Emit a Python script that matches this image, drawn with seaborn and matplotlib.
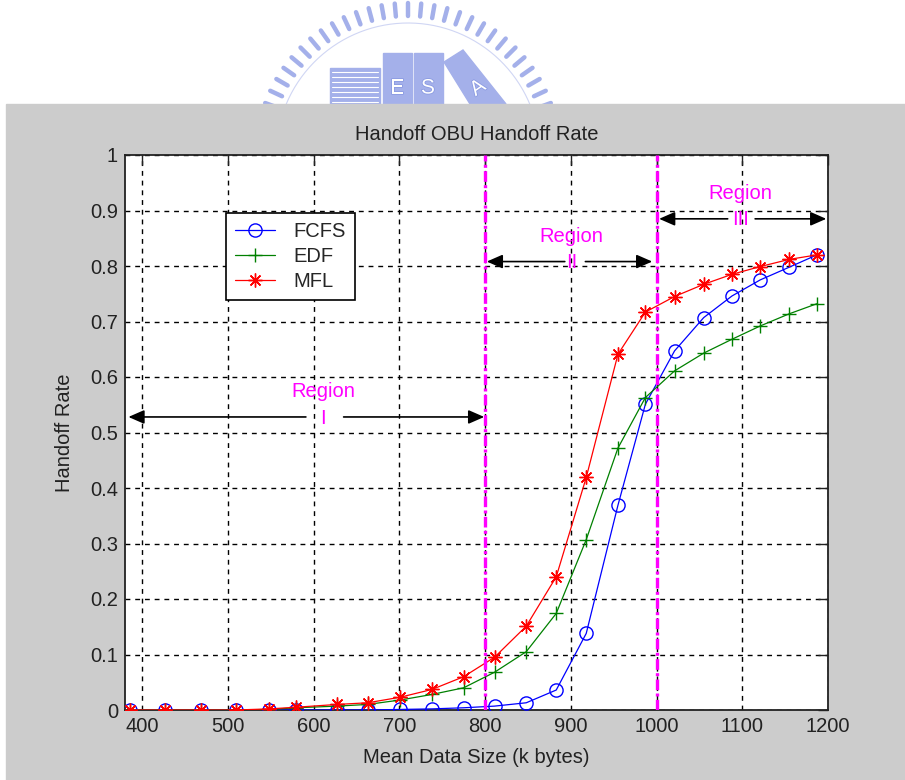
import numpy as np
import pandas as pd
import matplotlib
matplotlib.use("Agg")
import matplotlib.pyplot as plt
import seaborn as sns
from matplotlib.patches import Rectangle, Polygon
from matplotlib.lines import Line2D
import matplotlib.patheffects as pe

# ---------------- data ----------------
data_size = [386, 427, 469, 509, 548, 580, 627, 663, 701, 738, 775, 811,
             848, 883, 918, 955, 987, 1021, 1055, 1088, 1121, 1155, 1187]
fcfs = [0, 0, 0, 0, 0, 0, 0.0, 0.0, 0.001, 0.002, 0.004, 0.007,
        0.013, 0.036, 0.138, 0.369, 0.551, 0.647, 0.707, 0.746, 0.775, 0.798, 0.820]
edf = [0, 0, 0, 0, 0.001, 0.004, 0.007, 0.010, 0.018, 0.028, 0.040, 0.068,
       0.105, 0.174, 0.307, 0.472, 0.563, 0.611, 0.643, 0.668, 0.692, 0.714, 0.732]
mfl = [0, 0, 0, 0, 0.002, 0.005, 0.010, 0.013, 0.023, 0.037, 0.060, 0.095,
       0.151, 0.240, 0.419, 0.641, 0.717, 0.745, 0.767, 0.785, 0.799, 0.812, 0.820]
series_names = ["FCFS", "EDF", "MFL"]
series_values = [fcfs, edf, mfl]

x_ticks = [400, 500, 600, 700, 800, 900, 1000, 1100, 1200]
y_ticks = [0, 0.1, 0.2, 0.3, 0.4, 0.5, 0.6, 0.7, 0.8, 0.9, 1]
y_tick_labels = ["0", "0.1", "0.2", "0.3", "0.4", "0.5", "0.6", "0.7", "0.8", "0.9", "1"]
region_bounds = [800, 1000]
region_names = ["I", "II", "III"]
region_text_x = [611, 901, 1098]
region_arrow_y = [0.528, 0.808, 0.885]
region_left_end = [384, 802, 1003]
region_right_end = [799, 995, 1198]
region_gap = [(591, 635), (893, 917), (1083, 1115)]

title = "Handoff OBU Handoff Rate"
x_label = "Mean Data Size (k bytes)"
y_label = "Handoff Rate"

# ---------------- style ----------------
sns.set_theme(style="white")
plt.rcParams["font.family"] = ["Liberation Sans", "DejaVu Sans"]
FS = 14.5

W, H = 905, 780
fig = plt.figure(figsize=(W / 100, H / 100), dpi=100, facecolor="white")


def fx(px):
    return px / W


def fy(py):
    return 1 - py / H


# ---- faint watermark logo above the panel ----
logo_col = "#a4b0ea"
cx, cy = 408, 155
for ang in np.arange(0, 360, 5):
    t = np.deg2rad(ang)
    r0, r1 = 139, 152
    xs = [fx(cx + r0 * np.cos(t)), fx(cx + r1 * np.cos(t))]
    ys = [fy(cy - r0 * np.sin(t)), fy(cy - r1 * np.sin(t))]
    fig.add_artist(Line2D(xs, ys, transform=fig.transFigure, color=logo_col,
                          lw=3.2, solid_capstyle="round", zorder=-3))
tt = np.linspace(0, np.pi, 200)
fig.add_artist(Line2D(fx(cx + 132 * np.cos(tt)), fy(cy - 132 * np.sin(tt)),
                      transform=fig.transFigure, color="#d0d6f4", lw=0.8, zorder=-3))
fig.add_artist(Rectangle((fx(330), fy(104)), fx(380) - fx(330), fy(68) - fy(104),
                         transform=fig.transFigure, color=logo_col, zorder=-3))
for yy in range(72, 104, 5):
    fig.add_artist(Line2D([fx(332), fx(378)], [fy(yy), fy(yy)], transform=fig.transFigure,
                          color="white", lw=0.8, zorder=-2.9))
for (x0, x1) in [(383, 412), (414, 443)]:
    fig.add_artist(Rectangle((fx(x0), fy(104)), fx(x1) - fx(x0), fy(53) - fy(104),
                             transform=fig.transFigure, color=logo_col, zorder=-3))
fig.add_artist(Polygon([(fx(444), fy(62)), (fx(463), fy(50)), (fx(506), fy(104)), (fx(470), fy(104))],
                       closed=True, transform=fig.transFigure, color=logo_col, zorder=-3))
for ch, px_ in zip(["E", "S", "A"], [397, 428, 478]):
    fig.text(fx(px_), fy(88), ch, color="white", fontsize=15, ha="center", va="center",
             rotation=(35 if ch == "A" else 0), zorder=-2.8,
             path_effects=[pe.withStroke(linewidth=1.2, foreground="#8b9be2")])

# ---- grey MATLAB figure panel ----
fig.add_artist(Rectangle((fx(6), 0), 1 - fx(6), fy(104), transform=fig.transFigure,
                         color="#cccccc", zorder=-1))

# ---------------- axes ----------------
ax = fig.add_axes([fx(125), fy(710), (828 - 125) / W, (710 - 155) / H])
ax.set_facecolor("white")

colors = {"FCFS": "#0000ff", "EDF": "#008000", "MFL": "#ff0000"}
markers = {"FCFS": "o", "EDF": "+", "MFL": (8, 2, 0)}
msizes = {"FCFS": 9.5, "EDF": 10, "MFL": 10}
for name, vals in zip(series_names, series_values):
    c = colors[name]
    sns.lineplot(x=data_size, y=vals, ax=ax, color=c, lw=0.9, marker=markers[name],
                 markersize=msizes[name], markerfacecolor="none", markeredgecolor=c,
                 markeredgewidth=1.0, estimator=None, sort=False, label=name, zorder=3)

for b in region_bounds:
    ax.axvline(b, color="#ff00ff", lw=2.4, ls=(0, (3.2, 1.0, 0.9, 1.0)), zorder=4)

# region annotations
for name, tx, ay, le, re_, (g0, g1) in zip(region_names, region_text_x, region_arrow_y,
                                          region_left_end, region_right_end, region_gap):
    ap = dict(arrowstyle="-|>,head_length=0.8,head_width=0.35", color="black", lw=1.2,
              shrinkA=0, shrinkB=0, mutation_scale=12)
    ax.annotate("", xy=(le, ay), xytext=(g0, ay), arrowprops=ap, zorder=5)
    ax.annotate("", xy=(re_, ay), xytext=(g1, ay), arrowprops=ap, zorder=5)
    ax.text(tx, ay + 0.045, "Region", color="#ff00ff", fontsize=FS, ha="center", va="center", zorder=6)
    ax.text(tx, ay - 0.002, name, color="#ff00ff", fontsize=FS, ha="center", va="center", zorder=6)

ax.set_xlim(380, 1200)
ax.set_ylim(0, 1)
ax.set_xticks(x_ticks)
ax.set_xticklabels([str(v) for v in x_ticks])
ax.set_yticks(y_ticks)
ax.set_yticklabels(y_tick_labels)
ax.grid(True, color="black", ls=(0, (3.5, 3.5)), lw=1.0)
ax.set_axisbelow(True)
ax.tick_params(direction="in", length=7, width=1.0, colors="#222222", top=True, right=True,
               labelsize=FS, pad=5, labelcolor="#222222")
for s in ax.spines.values():
    s.set_color("#222222")
    s.set_linewidth(1.3)

ax.set_title(title, fontsize=FS, pad=11, color="#222222")
ax.set_xlabel(x_label, fontsize=FS, color="#222222")
ax.set_ylabel(y_label, fontsize=FS, color="#222222")
ax.xaxis.set_label_coords(0.5, -0.068)
ax.yaxis.set_label_coords(-0.072, 0.5)

leg = ax.legend(loc="upper left", bbox_to_anchor=((226 - 125) / 703, (710 - 213) / 555),
                borderaxespad=0, frameon=True, fancybox=False, edgecolor="black",
                framealpha=1, handlelength=2.0, handletextpad=0.9, labelspacing=0.3,
                borderpad=0.45, fontsize=FS)
leg.get_frame().set_linewidth(1.2)
leg.set_zorder(7)

fig.savefig("out.png", dpi=100, facecolor=fig.get_facecolor())
